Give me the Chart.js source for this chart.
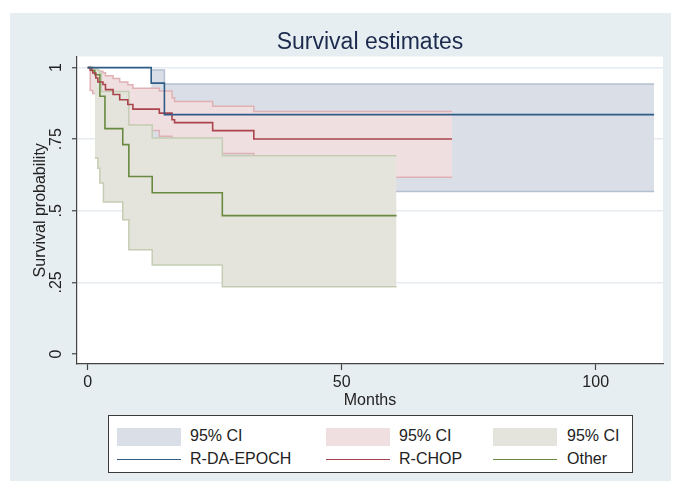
<!DOCTYPE html>
<html lang="en">

<head>
  <meta charset="UTF-8">
  <title>Survival estimates</title>
  <script src="https://cdn.jsdelivr.net/npm/chart.js"></script>
  <style>
    body {
      margin: 0;
      background: #fff;
      font-family: "Liberation Sans", Arial, sans-serif;
    }

    #wrap {
      position: relative;
      width: 681px;
      height: 491px;
    }

    #legend {
      position: absolute;
      left: 108px;
      top: 415px;
      width: 525px;
      height: 58px;
      box-sizing: border-box;
      border: 1.5px solid #3a3a3a;
      background: #fff;
    }

    #legend .key {
      position: absolute;
      width: 64px;
    }

    #legend .lab {
      position: absolute;
      font-size: 16px;
      line-height: 18px;
      color: #222;
      white-space: nowrap;
    }
  </style>
</head>

<body>
  <div id="wrap">
    <canvas id="km" width="681" height="491"></canvas>
    <div id="legend"></div>
  </div>

  <script>
    // groups and legend text
    const groups = ['R-DA-EPOCH', 'R-CHOP', 'Other'];
    const ciLabel = '95% CI';

    // R-DA-EPOCH: KM steps and 95% CI
    const epochT = [0, 12.5, 15.1, 111.5];
    const epochS = [1, 0.946, 0.836, 0.836];
    const epochCiT = [12.5, 15.1, 111.5];
    const epochHi = [0.992, 0.943, 0.943];
    const epochLo = [0.70, 0.567, 0.567];

    // R-CHOP
    const chopT = [0, 0.5, 1.0, 1.6, 2.0, 3.0, 3.5, 5.0, 6.3, 7.9, 8.9, 14.1, 16.6, 17.1, 24.6, 32.7, 71.7];
    const chopS = [1, .991, .981, .964, .950, .941, .923, .906, .888, .871, .855, .841, .818, .808, .780, .751, .751];
    const chopHi = [1, 1, .998, .993, .987, .982, .972, .962, .950, .940, .928, .918, .895, .882, .865, .847, .847];
    const chopLo = [1, .92, .91, .90, .89, .88, .86, .84, .82, .80, .78, .76, .74, .73, .70, .617, .617];

    // Other
    const othT = [0, 0.8, 1.4, 2.4, 3.4, 6.9, 8.1, 12.7, 26.5, 60.8];
    const othS = [1, .99, .975, .90, .787, .731, .62, .563, .483, .483];
    const othCiT = [1.4, 2.0, 2.4, 2.7, 3.1, 6.9, 8.1, 12.7, 26.5, 60.8];
    const othHi = [.995, .99, .98, .917, .917, .917, .80, .754, .692, .692];
    const othLo = [.684, .649, .597, .597, .531, .469, .364, .311, .235, .235];

    // axes
    const xTicks = [0, 50, 100];
    const yTicks = [0, .25, .5, .75, 1];
    const yTickLabels = ['0', '.25', '.5', '.75', '1'];

    const font = '"Liberation Sans", Arial, sans-serif';
    const lineCol = ['#2f5b87', '#a9444c', '#68893f'];
    const bandFill = ['#d9dee7', '#f0dfe0', '#e5e4dc'];
    const bandEdge = ['#b3c0d1', '#e0b1b4', '#c4cdb3'];

    function pts(t, v) {
      return t.map((x, i) => ({ x: x, y: v[i] }));
    }

    function band(t, lo, hi, k, ord) {
      return [
        { data: pts(t, lo), borderColor: bandEdge[k], borderWidth: 1.5, fill: false, order: ord },
        { data: pts(t, hi), borderColor: bandEdge[k], borderWidth: 1.5, backgroundColor: bandFill[k], fill: '-1', order: ord }
      ];
    }

    function km(t, s, k) {
      return { data: pts(t, s), borderColor: lineCol[k], borderWidth: 1.6, fill: false, order: 0 };
    }

    const sets = [
      ...band(epochCiT, epochLo, epochHi, 0, 30),
      ...band(chopT, chopLo, chopHi, 1, 20),
      ...band(othCiT, othLo, othHi, 2, 10),
      km(epochT, epochS, 0),
      km(chopT, chopS, 1),
      km(othT, othS, 2)
    ].map(d => Object.assign({ stepped: true, pointRadius: 0, tension: 0 }, d));

    const bg = {
      id: 'bg',
      beforeDraw(chart) {
        const { ctx, chartArea: a } = chart;
        ctx.save();
        ctx.fillStyle = '#e7eef1';
        ctx.fillRect(10, 13, 661, 468);
        ctx.fillStyle = '#fff';
        ctx.fillRect(a.left, a.top, a.right - a.left, a.bottom - a.top);
        ctx.restore();
      }
    };

    new Chart(document.getElementById('km'), {
      type: 'line',
      data: { datasets: sets },
      plugins: [bg],
      options: {
        responsive: false,
        animation: false,
        events: [],
        layout: { padding: { left: 0, right: 18, top: 0, bottom: 79 } },
        plugins: {
          legend: { display: false },
          tooltip: { enabled: false },
          title: {
            display: true,
            text: 'Survival estimates',
            fullSize: false,
            color: '#1c2a4e',
            font: { family: font, size: 23, weight: 'normal' },
            padding: { top: 29, bottom: 0 }
          }
        },
        scales: {
          x: {
            type: 'linear',
            min: -2.106,
            max: 113.25,
            afterBuildTicks: s => { s.ticks = xTicks.map(v => ({ value: v })); },
            afterFit: s => { s.height = 48; },
            ticks: { color: '#222', font: { family: font, size: 16 }, padding: 3, maxRotation: 0, autoSkip: false },
            grid: { drawOnChartArea: false, drawTicks: true, tickLength: 6, tickColor: '#444', tickWidth: 1.2 },
            border: { display: true, color: '#444', width: 1.2 },
            title: { display: true, text: 'Months', color: '#222', font: { family: font, size: 16 }, padding: { top: 0, bottom: 2 } }
          },
          y: {
            min: -0.035,
            max: 1.0385,
            afterBuildTicks: s => { s.ticks = yTicks.map(v => ({ value: v })); },
            afterFit: s => { s.width = 77; },
            ticks: {
              color: '#222',
              font: { family: font, size: 16 },
              padding: 4,
              minRotation: 90,
              maxRotation: 90,
              crossAlign: 'center',
              callback: (v, i) => yTickLabels[i]
            },
            grid: {
              color: c => (c.tick && c.tick.value === 0) ? 'rgba(0,0,0,0)' : '#e4ecf0',
              lineWidth: 1.5,
              tickLength: 5,
              tickColor: '#444',
              tickWidth: 1.2
            },
            border: { display: true, color: '#444', width: 1.2 },
            title: { display: true, text: 'Survival probability', color: '#222', font: { family: font, size: 16 }, padding: { top: 30.5, bottom: 0 } }
          }
        }
      }
    });

    // legend: top row CI swatches, bottom row lines
    const keyX = [8, 217, 384];
    const labX = [81, 290, 458];
    const rowY = [21, 44];
    const lg = document.getElementById('legend');
    groups.forEach((g, k) => {
      const sw = document.createElement('div');
      sw.className = 'key';
      sw.style.cssText = `left:${keyX[k]}px;top:${rowY[0] - 9}px;height:18px;background:${bandFill[k]}`;
      lg.appendChild(sw);
      const ln = document.createElement('div');
      ln.className = 'key';
      ln.style.cssText = `left:${keyX[k]}px;top:${rowY[1] - 1}px;height:0;border-top:1.6px solid ${lineCol[k]}`;
      lg.appendChild(ln);
      [ciLabel, g].forEach((txt, r) => {
        const t = document.createElement('div');
        t.className = 'lab';
        t.textContent = txt;
        t.style.left = labX[k] + 'px';
        t.style.top = (rowY[r] - 10) + 'px';
        lg.appendChild(t);
      });
    });
  </script>
</body>

</html>
